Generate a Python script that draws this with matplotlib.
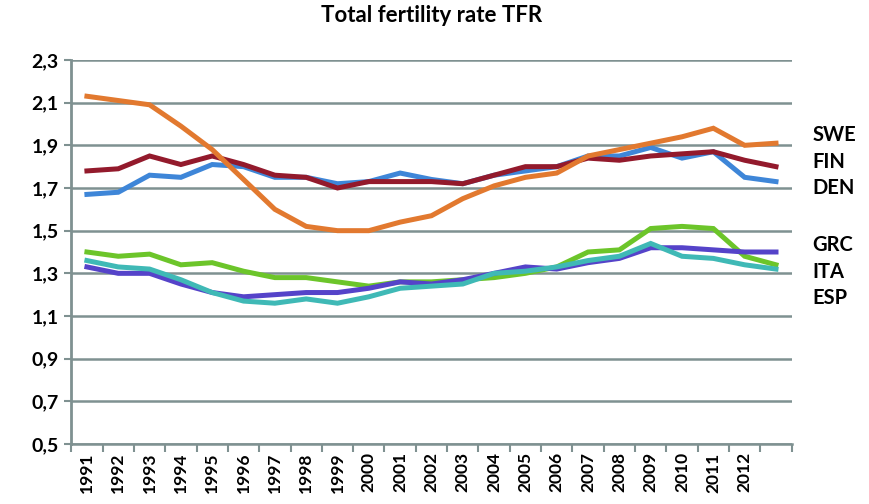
import numpy as np
import matplotlib
matplotlib.use("Agg")
from matplotlib import pyplot as plt

years = [str(y) for y in range(1991, 2014)]
year_labels = years[:-1] + [""]

swe = [2.13, 2.11, 2.09, 1.99, 1.88, 1.74, 1.60, 1.52, 1.50, 1.50, 1.54, 1.57,
       1.65, 1.71, 1.75, 1.77, 1.85, 1.88, 1.91, 1.94, 1.98, 1.90, 1.91]
fin = [1.78, 1.79, 1.85, 1.81, 1.85, 1.81, 1.76, 1.75, 1.70, 1.73, 1.73, 1.73,
       1.72, 1.76, 1.80, 1.80, 1.84, 1.83, 1.85, 1.86, 1.87, 1.83, 1.80]
den = [1.67, 1.68, 1.76, 1.75, 1.81, 1.80, 1.75, 1.75, 1.72, 1.73, 1.77, 1.74,
       1.72, 1.76, 1.78, 1.80, 1.85, 1.85, 1.89, 1.84, 1.87, 1.75, 1.73]
grc = [1.40, 1.38, 1.39, 1.34, 1.35, 1.31, 1.28, 1.28, 1.26, 1.24, 1.26, 1.26,
       1.27, 1.28, 1.30, 1.33, 1.40, 1.41, 1.51, 1.52, 1.51, 1.38, 1.34]
ita = [1.33, 1.30, 1.30, 1.25, 1.21, 1.19, 1.20, 1.21, 1.21, 1.23, 1.26, 1.25,
       1.27, 1.30, 1.33, 1.32, 1.35, 1.37, 1.42, 1.42, 1.41, 1.40, 1.40]
esp = [1.36, 1.33, 1.32, 1.27, 1.21, 1.17, 1.16, 1.18, 1.16, 1.19, 1.23, 1.24,
       1.25, 1.30, 1.31, 1.33, 1.36, 1.38, 1.44, 1.38, 1.37, 1.34, 1.32]

labels_top = ["SWE", "FIN", "DEN"]
labels_bottom = ["GRC", "ITA", "ESP"]

plt.rcParams['font.family'] = ['Lato', 'DejaVu Sans']

fig = plt.figure(figsize=(8.69, 5.04), dpi=100)
ax = fig.add_axes([0.082, 0.119, 0.829, 0.762])

grid_color = '#7f9191'
x = np.arange(len(years))

ax.plot(x, grc, color='#6cc52a', lw=3.6, solid_joinstyle='miter')
ax.plot(x, ita, color='#5543c9', lw=3.6, solid_joinstyle='miter')
ax.plot(x, esp, color='#3fb9b6', lw=3.6, solid_joinstyle='miter')
ax.plot(x, den, color='#3e86d8', lw=3.6, solid_joinstyle='miter')
ax.plot(x, fin, color='#931a2c', lw=3.6, solid_joinstyle='miter')
ax.plot(x, swe, color='#e2792f', lw=3.6, solid_joinstyle='miter')

ax.set_ylim(0.5, 2.3)
ax.set_xlim(-0.5, len(years) - 0.5)
yt = np.arange(0.5, 2.31, 0.2)
ax.set_yticks(yt)
ax.set_yticklabels([f"{v:.1f}".replace(".", ",") for v in yt],
                   fontsize=14, fontweight='bold')
ax.yaxis.grid(True, color=grid_color, lw=1.8)
ax.set_axisbelow(True)

ax.set_xticks(x)
ax.set_xticklabels(year_labels, rotation=90, fontsize=12.5, fontweight='bold')
ax.set_xticks(np.arange(-0.5, len(years)), minor=True)
ax.tick_params(axis='x', which='major', length=0, pad=6)
ax.tick_params(axis='x', which='minor', length=6, width=1.5, color=grid_color)
ax.tick_params(axis='y', length=5, width=1.5, color=grid_color, pad=4)

for s in ['top', 'right']:
    ax.spines[s].set_visible(False)
ax.spines['left'].set_color(grid_color)
ax.spines['left'].set_linewidth(2)
ax.spines['bottom'].set_color(grid_color)
ax.spines['bottom'].set_linewidth(1.8)

ax.set_title("Total fertility rate TFR", fontsize=16, fontweight='bold', pad=27)

for i, lab in enumerate(labels_top):
    fig.text(0.935, 1 - (135 + i * 26.5) / 504, lab, fontsize=14.5,
             fontweight='bold', va='center')
for i, lab in enumerate(labels_bottom):
    fig.text(0.935, 1 - (245 + i * 26.5) / 504, lab, fontsize=14.5,
             fontweight='bold', va='center')

fig.savefig("out.png", dpi=100)
